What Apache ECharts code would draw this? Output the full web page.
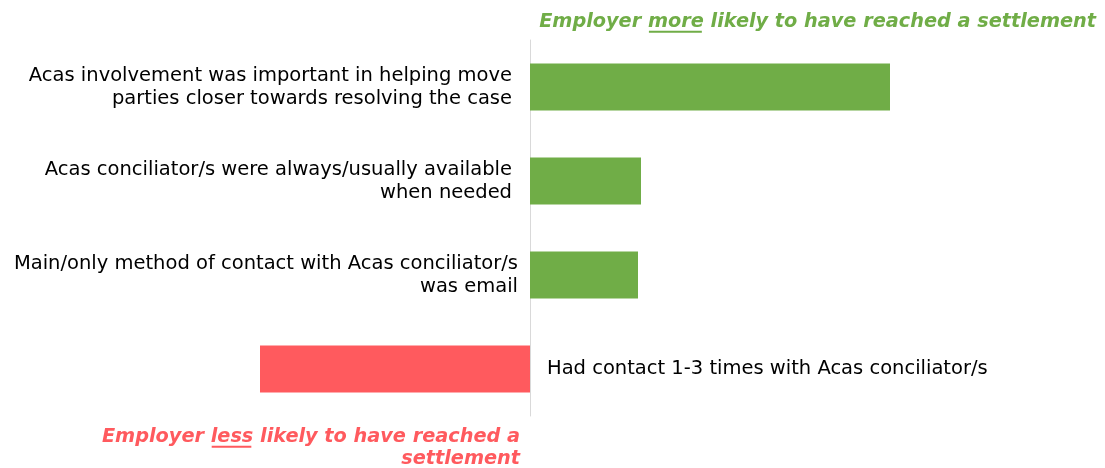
<!DOCTYPE html>
<html>
<head>
<meta charset="utf-8">
<script src="https://cdn.jsdelivr.net/npm/echarts@6/dist/echarts.min.js"></script>
<style>html,body{margin:0;padding:0;background:#fff;}#c{width:1105px;height:468px;}</style>
</head>
<body>
<div id="c"></div>
<script>
const categories = [
  'Acas involvement was important in helping move\nparties closer towards resolving the case',
  'Acas conciliator/s were always/usually available\nwhen needed',
  'Main/only method of contact with Acas conciliator/s\nwas email',
  'Had contact 1-3 times with Acas conciliator/s'
];
const values = [3.6, 1.11, 1.08, -2.7];

const GREEN = '#70AD47';
const RED = '#FF5A5E';
const FONT = 'DejaVu Sans';
const LABEL_SIZE = 19.5;
const ANN_SIZE = 19.3;
const labelDistances = [18, 18, 12, 17];

const chart = echarts.init(document.getElementById('c'));

const ctx = document.createElement('canvas').getContext('2d');
function measure(t, font) { ctx.font = font; return ctx.measureText(t).width; }

// build annotation line with underlined word, right-aligned at xRight
function annLine(parts, xRight, yMid, color) {
  const font = 'italic bold ' + ANN_SIZE + 'px "' + FONT + '"';
  const widths = parts.map(p => measure(p.t, font));
  const total = widths.reduce((a, b) => a + b, 0);
  let x = xRight - total;
  const els = [];
  parts.forEach((p, i) => {
    els.push({
      type: 'text', x: x, y: yMid,
      style: { text: p.t, fill: color, font: font, textVerticalAlign: 'middle', textAlign: 'left' }
    });
    if (p.u) {
      els.push({
        type: 'line', x: 0, y: 0,
        shape: { x1: x + 1, y1: yMid + ANN_SIZE * 0.5, x2: x + widths[i] - 2, y2: yMid + ANN_SIZE * 0.5 },
        style: { stroke: color, lineWidth: 2 }
      });
    }
    x += widths[i];
  });
  return els;
}

const graphics = [].concat(
  annLine([{t: 'Employer '}, {t: 'more', u: true}, {t: ' likely to have reached a settlement'}], 1096, 22, GREEN),
  annLine([{t: 'Employer '}, {t: 'less', u: true}, {t: ' likely to have reached a'}], 520, 437, RED),
  annLine([{t: 'settlement'}], 520, 459, RED)
);

chart.setOption({
  animation: false,
  grid: { left: 260, right: 215, top: 40, bottom: 52 },
  xAxis: { type: 'value', min: -2.7, max: 3.6, show: false },
  yAxis: {
    type: 'category', inverse: true, data: categories,
    axisLine: { show: true, onZero: true, lineStyle: { color: '#D9D9D9', width: 1 } },
    axisTick: { show: false }, axisLabel: { show: false }, splitLine: { show: false }
  },
  series: [{
    type: 'bar',
    barWidth: 47,
    data: values.map((v, i) => ({
      value: v,
      itemStyle: { color: v >= 0 ? GREEN : RED },
      label: { position: v >= 0 ? 'left' : 'right', distance: labelDistances[i] }
    })),
    label: {
      show: true, formatter: '{b}', color: '#000', fontFamily: FONT,
      fontSize: LABEL_SIZE, lineHeight: 23
    }
  }],
  graphic: graphics
});
</script>
</body>
</html>
